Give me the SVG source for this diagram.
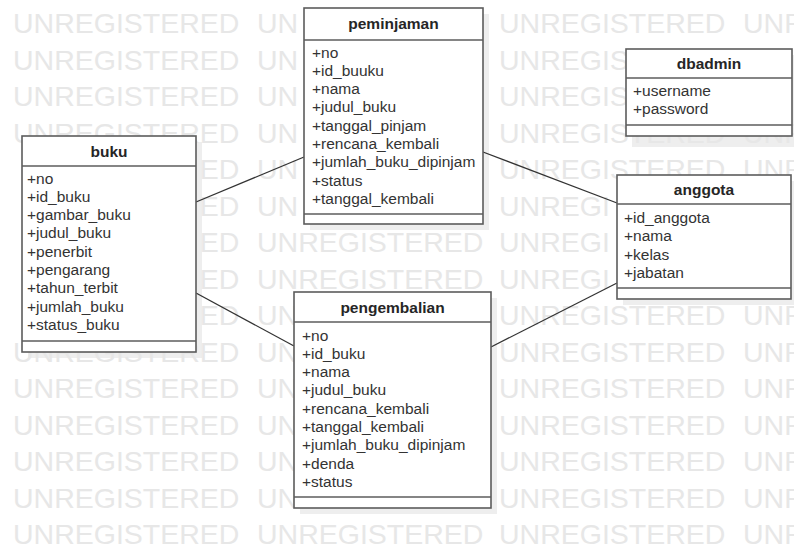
<svg xmlns="http://www.w3.org/2000/svg" width="794" height="550" viewBox="0 0 794 550">
<style>
.wm{font-family:"Liberation Sans",Arial,sans-serif;font-size:28.5px;fill:#e7e7e7}
.sh{fill:#eeeeee}
.box{fill:#fff;stroke:#5c5c5c;stroke-width:1.6}
.sep{stroke:#5c5c5c;stroke-width:1.6}
.t{font-family:"Liberation Sans",Arial,sans-serif;font-size:15.5px;font-weight:bold;fill:#262626;text-anchor:middle}
.a{font-family:"Liberation Sans",Arial,sans-serif;font-size:15.5px;fill:#333}
.c{stroke:#333;stroke-width:1.3;fill:none}
</style>
<rect width="794" height="550" fill="#fff"/>
<g id="shadows">
<rect class="sh" x="28" y="142" width="174" height="216"/>
<rect class="sh" x="310" y="14" width="179" height="216"/>
<rect class="sh" x="300" y="298" width="197" height="216"/>
<rect class="sh" x="623" y="181" width="174" height="124"/>
<rect class="sh" x="632" y="55" width="166" height="92"/>
</g>
<g id="watermark">
<text class="wm" y="33"><tspan x="13">UNREGISTERED</tspan><tspan x="257">UN</tspan><tspan x="499">UNREGISTERED</tspan><tspan x="743">UNR</tspan></text>
<text class="wm" y="69.5"><tspan x="13">UNREGISTERED</tspan><tspan x="257">UN</tspan><tspan x="499">UNREGIS</tspan></text>
<text class="wm" y="106"><tspan x="13">UNREGISTERED</tspan><tspan x="257">UN</tspan><tspan x="499">UNREGIS</tspan></text>
<text class="wm" y="142.5"><tspan x="13">UNREGISTERED</tspan><tspan x="257">UN</tspan><tspan x="499">UNREGISTERED</tspan><tspan x="743">UNR</tspan></text>
<text class="wm" y="179"><tspan x="199.8">ED</tspan><tspan x="257">UN</tspan><tspan x="499">UNREGISTERED</tspan><tspan x="743">UNR</tspan></text>
<text class="wm" y="215.5"><tspan x="199.8">ED</tspan><tspan x="257">UN</tspan><tspan x="499">UNREGI</tspan></text>
<text class="wm" y="252"><tspan x="199.8">ED</tspan><tspan x="257">UNREGISTERED</tspan><tspan x="499">UNREGI</tspan></text>
<text class="wm" y="288.5"><tspan x="199.8">ED</tspan><tspan x="257">UNREGISTERED</tspan><tspan x="499">UNREGI</tspan></text>
<text class="wm" y="325"><tspan x="199.8">ED</tspan><tspan x="257">UN</tspan><tspan x="499">UNREGISTERED</tspan><tspan x="743">UNR</tspan></text>
<text class="wm" y="361.5"><tspan x="13">UNREGISTERED</tspan><tspan x="257">UN</tspan><tspan x="499">UNREGISTERED</tspan><tspan x="743">UNR</tspan></text>
<text class="wm" y="398"><tspan x="13">UNREGISTERED</tspan><tspan x="257">UN</tspan><tspan x="499">UNREGISTERED</tspan><tspan x="743">UNR</tspan></text>
<text class="wm" y="434.5"><tspan x="13">UNREGISTERED</tspan><tspan x="257">UN</tspan><tspan x="499">UNREGISTERED</tspan><tspan x="743">UNR</tspan></text>
<text class="wm" y="471"><tspan x="13">UNREGISTERED</tspan><tspan x="257">UN</tspan><tspan x="499">UNREGISTERED</tspan><tspan x="743">UNR</tspan></text>
<text class="wm" y="507.5"><tspan x="13">UNREGISTERED</tspan><tspan x="257">UN</tspan><tspan x="499">UNREGISTERED</tspan><tspan x="743">UNR</tspan></text>
<text class="wm" y="544"><tspan x="13">UNREGISTERED</tspan><tspan x="257">UNREGISTERED</tspan><tspan x="499">UNREGISTERED</tspan><tspan x="743">UNR</tspan></text>
</g>
<g id="connectors">
<line class="c" x1="196" y1="202" x2="304" y2="157"/>
<line class="c" x1="196" y1="293" x2="294" y2="346"/>
<line class="c" x1="483" y1="152" x2="617" y2="203"/>
<line class="c" x1="491" y1="347" x2="617" y2="283"/>
</g>
<g id="buku">
<rect class="box" x="22" y="136" width="174" height="216"/>
<line class="sep" x1="22" y1="166" x2="196" y2="166"/>
<line class="sep" x1="22" y1="341" x2="196" y2="341"/>
<text class="t" x="109" y="157">buku</text>
<text class="a" x="27" y="183.5">+no</text>
<text class="a" x="27" y="201.8">+id_buku</text>
<text class="a" x="27" y="220.1">+gambar_buku</text>
<text class="a" x="27" y="238.4">+judul_buku</text>
<text class="a" x="27" y="256.7">+penerbit</text>
<text class="a" x="27" y="275">+pengarang</text>
<text class="a" x="27" y="293.3">+tahun_terbit</text>
<text class="a" x="27" y="311.6">+jumlah_buku</text>
<text class="a" x="27" y="329.9">+status_buku</text>
</g>
<g id="peminjaman">
<rect class="box" x="304" y="8" width="179" height="216"/>
<line class="sep" x1="304" y1="40" x2="483" y2="40"/>
<line class="sep" x1="304" y1="214" x2="483" y2="214"/>
<text class="t" x="393.5" y="29">peminjaman</text>
<text class="a" x="312" y="57.5">+no</text>
<text class="a" x="312" y="75.8">+id_buuku</text>
<text class="a" x="312" y="94.1">+nama</text>
<text class="a" x="312" y="112.4">+judul_buku</text>
<text class="a" x="312" y="130.7">+tanggal_pinjam</text>
<text class="a" x="312" y="149">+rencana_kembali</text>
<text class="a" x="312" y="167.3">+jumlah_buku_dipinjam</text>
<text class="a" x="312" y="185.6">+status</text>
<text class="a" x="312" y="203.9">+tanggal_kembali</text>
</g>
<g id="pengembalian">
<rect class="box" x="294" y="292" width="197" height="216"/>
<line class="sep" x1="294" y1="322" x2="491" y2="322"/>
<line class="sep" x1="294" y1="497" x2="491" y2="497"/>
<text class="t" x="392.5" y="313">pengembalian</text>
<text class="a" x="302" y="340.5">+no</text>
<text class="a" x="302" y="358.8">+id_buku</text>
<text class="a" x="302" y="377.1">+nama</text>
<text class="a" x="302" y="395.4">+judul_buku</text>
<text class="a" x="302" y="413.7">+rencana_kembali</text>
<text class="a" x="302" y="432">+tanggal_kembali</text>
<text class="a" x="302" y="450.3">+jumlah_buku_dipinjam</text>
<text class="a" x="302" y="468.6">+denda</text>
<text class="a" x="302" y="486.9">+status</text>
</g>
<g id="anggota">
<rect class="box" x="617" y="175" width="174" height="124"/>
<line class="sep" x1="617" y1="204" x2="791" y2="204"/>
<line class="sep" x1="617" y1="288" x2="791" y2="288"/>
<text class="t" x="704" y="195">anggota</text>
<text class="a" x="624" y="223">+id_anggota</text>
<text class="a" x="624" y="241.3">+nama</text>
<text class="a" x="624" y="259.6">+kelas</text>
<text class="a" x="624" y="277.9">+jabatan</text>
</g>
<g id="dbadmin">
<rect class="box" x="626" y="49" width="166" height="87"/>
<line class="sep" x1="626" y1="78" x2="792" y2="78"/>
<line class="sep" x1="626" y1="125" x2="792" y2="125"/>
<text class="t" x="709" y="69">dbadmin</text>
<text class="a" x="633" y="96">+username</text>
<text class="a" x="633" y="114.3">+password</text>
</g>
</svg>
